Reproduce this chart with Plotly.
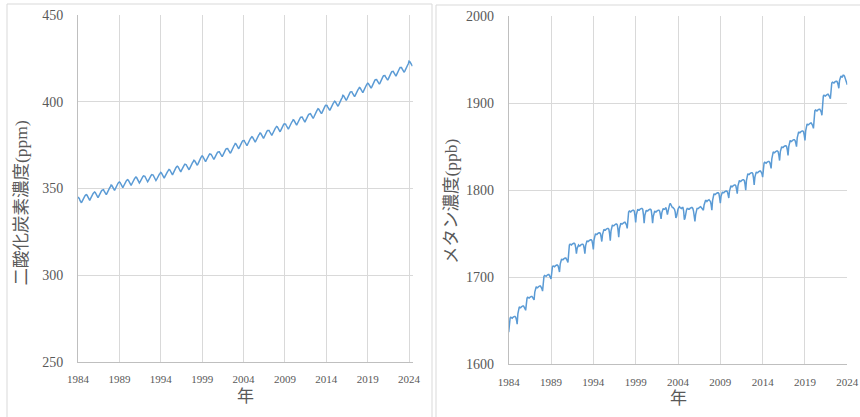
import plotly.graph_objects as go

# ---------------- data ----------------
# CO2 (ppm), monthly, one row per axis year starting 1984 (last row partial)
co2_years = list(range(1984, 2025))
co2_rows = [
    [345.1, 344.8, 344.1, 343.0, 342.1, 341.8, 342.6, 343.6, 344.4, 345.0, 345.7, 346.2],
    [346.5, 346.2, 345.5, 344.4, 343.5, 343.2, 344.0, 345.0, 345.8, 346.4, 347.1, 347.6],
    [348.0, 347.7, 347.0, 345.9, 345.0, 344.7, 345.5, 346.5, 347.3, 347.9, 348.6, 349.1],
    [349.5, 349.3, 348.5, 347.5, 346.6, 346.4, 347.2, 348.2, 349.1, 349.8, 350.5, 351.0],
    [352.0, 351.8, 351.0, 350.0, 349.1, 348.9, 349.7, 350.7, 351.6, 352.3, 353.0, 353.5],
    [353.8, 353.5, 352.8, 351.7, 350.8, 350.5, 351.3, 352.3, 353.1, 353.7, 354.4, 354.9],
    [355.1, 354.8, 354.1, 353.0, 352.1, 351.8, 352.6, 353.6, 354.4, 355.0, 355.7, 356.2],
    [356.6, 356.3, 355.5, 354.4, 353.5, 353.2, 353.8, 354.8, 355.6, 356.2, 356.8, 357.3],
    [357.3, 357.0, 356.2, 355.1, 354.2, 353.9, 354.5, 355.5, 356.3, 356.9, 357.5, 358.0],
    [358.0, 357.7, 356.9, 355.8, 354.9, 354.6, 355.2, 356.2, 357.0, 357.6, 358.2, 358.7],
    [359.3, 359.0, 358.3, 357.2, 356.3, 356.0, 356.8, 357.8, 358.6, 359.2, 359.9, 360.4],
    [361.0, 360.8, 360.0, 359.0, 358.1, 357.9, 358.7, 359.7, 360.6, 361.3, 362.0, 362.5],
    [362.9, 362.6, 361.9, 360.8, 359.9, 359.6, 360.4, 361.4, 362.2, 362.8, 363.5, 364.0],
    [363.9, 363.7, 362.9, 361.9, 361.0, 360.8, 361.6, 362.6, 363.5, 364.2, 364.9, 365.4],
    [366.3, 366.1, 365.4, 364.4, 363.6, 363.4, 364.2, 365.3, 366.2, 366.9, 367.6, 368.3],
    [368.8, 368.5, 367.8, 366.7, 365.8, 365.5, 366.3, 367.3, 368.1, 368.7, 369.4, 369.9],
    [370.0, 369.7, 369.0, 367.9, 367.0, 366.7, 367.5, 368.5, 369.3, 369.9, 370.6, 371.1],
    [371.4, 371.2, 370.4, 369.4, 368.5, 368.3, 369.1, 370.1, 371.0, 371.7, 372.4, 372.9],
    [373.2, 373.0, 372.3, 371.3, 370.5, 370.3, 371.1, 372.2, 373.1, 373.8, 374.5, 375.2],
    [376.0, 375.8, 375.0, 374.0, 373.1, 372.9, 373.7, 374.7, 375.6, 376.3, 377.0, 377.5],
    [377.8, 377.6, 376.8, 375.8, 374.9, 374.7, 375.5, 376.5, 377.4, 378.1, 378.8, 379.3],
    [379.8, 379.6, 378.8, 377.8, 376.9, 376.7, 377.5, 378.5, 379.4, 380.1, 380.8, 381.3],
    [382.0, 381.8, 381.0, 380.0, 379.1, 378.9, 379.7, 380.7, 381.6, 382.3, 383.0, 383.5],
    [383.7, 383.5, 382.7, 381.7, 380.8, 380.6, 381.4, 382.4, 383.3, 384.0, 384.7, 385.2],
    [385.8, 385.6, 384.8, 383.8, 382.9, 382.7, 383.5, 384.5, 385.4, 386.1, 386.8, 387.3],
    [387.3, 387.1, 386.3, 385.3, 384.4, 384.2, 385.0, 386.0, 386.9, 387.6, 388.3, 388.8],
    [389.6, 389.4, 388.6, 387.6, 386.7, 386.5, 387.3, 388.3, 389.2, 389.9, 390.6, 391.1],
    [391.4, 391.2, 390.4, 389.4, 388.5, 388.3, 389.1, 390.1, 391.0, 391.7, 392.4, 392.9],
    [393.3, 393.1, 392.4, 391.4, 390.6, 390.4, 391.2, 392.3, 393.2, 393.9, 394.6, 395.3],
    [396.0, 395.8, 395.1, 394.1, 393.3, 393.1, 393.9, 395.0, 395.9, 396.6, 397.3, 398.0],
    [398.1, 397.9, 397.1, 396.1, 395.2, 395.0, 395.8, 396.8, 397.7, 398.4, 399.1, 399.6],
    [400.3, 400.1, 399.4, 398.4, 397.6, 397.4, 398.2, 399.3, 400.2, 400.9, 401.6, 402.3],
    [403.7, 403.5, 402.8, 401.8, 401.0, 400.8, 401.6, 402.7, 403.6, 404.3, 405.0, 405.7],
    [406.0, 405.8, 405.0, 404.0, 403.1, 402.9, 403.7, 404.7, 405.6, 406.3, 407.0, 407.5],
    [408.2, 408.0, 407.3, 406.3, 405.5, 405.3, 406.1, 407.2, 408.1, 408.8, 409.5, 410.2],
    [410.7, 410.5, 409.8, 408.8, 408.0, 407.8, 408.6, 409.7, 410.6, 411.3, 412.0, 412.7],
    [413.0, 412.8, 412.1, 411.1, 410.3, 410.1, 410.9, 412.0, 412.9, 413.6, 414.3, 415.0],
    [415.3, 415.1, 414.4, 413.4, 412.6, 412.4, 413.2, 414.3, 415.2, 415.9, 416.6, 417.3],
    [417.7, 417.5, 416.8, 415.8, 415.0, 414.8, 415.6, 416.7, 417.6, 418.3, 419.0, 419.7],
    [419.9, 419.7, 419.0, 418.0, 417.2, 417.0, 417.8, 418.9, 419.8, 420.5, 421.2, 421.9],
    [423.4, 423.2, 422.5, 421.5, 420.7, 420.5],
]

# CH4 (ppb), monthly, one row per axis year starting 1984 (last row partial)
ch4_years = list(range(1984, 2025))
ch4_rows = [
    [1637, 1647, 1653, 1654, 1653, 1653, 1654, 1655, 1655, 1655, 1654, 1651],
    [1646, 1658, 1665, 1666, 1665, 1665, 1666, 1667, 1667, 1667, 1666, 1664],
    [1662, 1671, 1676, 1677, 1676, 1676, 1677, 1678, 1678, 1678, 1677, 1676],
    [1674, 1683, 1688, 1689, 1688, 1688, 1689, 1690, 1690, 1690, 1689, 1687],
    [1684, 1695, 1701, 1702, 1701, 1701, 1702, 1703, 1703, 1703, 1702, 1700],
    [1698, 1707, 1712, 1713, 1712, 1712, 1713, 1714, 1714, 1714, 1713, 1710],
    [1706, 1715, 1720, 1721, 1720, 1720, 1721, 1722, 1722, 1722, 1721, 1719],
    [1717, 1730, 1737, 1738, 1737, 1737, 1738, 1739, 1739, 1739, 1738, 1734],
    [1727, 1733, 1736, 1737, 1736, 1736, 1737, 1738, 1738, 1738, 1737, 1733],
    [1727, 1736, 1741, 1742, 1741, 1741, 1742, 1743, 1743, 1743, 1742, 1738],
    [1732, 1743, 1749, 1750, 1749, 1749, 1750, 1751, 1751, 1751, 1750, 1746],
    [1741, 1749, 1754, 1755, 1754, 1754, 1755, 1756, 1756, 1756, 1755, 1750],
    [1742, 1753, 1759, 1760, 1759, 1759, 1760, 1761, 1761, 1761, 1760, 1754],
    [1746, 1756, 1761, 1762, 1761, 1761, 1762, 1763, 1763, 1763, 1762, 1760],
    [1756, 1768, 1775, 1776, 1775, 1775, 1776, 1777, 1777, 1777, 1776, 1771],
    [1763, 1772, 1777, 1778, 1777, 1777, 1778, 1779, 1779, 1779, 1778, 1772],
    [1762, 1771, 1776, 1777, 1776, 1776, 1777, 1778, 1778, 1778, 1777, 1771],
    [1762, 1770, 1775, 1776, 1775, 1775, 1776, 1777, 1777, 1777, 1776, 1772],
    [1767, 1774, 1778, 1779, 1778, 1778, 1779, 1780, 1776, 1772, 1776, 1781],
    [1783, 1785, 1783, 1781, 1780, 1780, 1779, 1778, 1775, 1768, 1770, 1776],
    [1778, 1780, 1781, 1780, 1779, 1779, 1780, 1780, 1776, 1766, 1768, 1775],
    [1777, 1779, 1779, 1778, 1778, 1779, 1780, 1780, 1780, 1779, 1776, 1770],
    [1764, 1772, 1778, 1779, 1779, 1779, 1780, 1781, 1781, 1780, 1779, 1778],
    [1777, 1783, 1787, 1788, 1788, 1787, 1788, 1789, 1789, 1788, 1787, 1783],
    [1777, 1788, 1795, 1796, 1795, 1795, 1796, 1797, 1797, 1797, 1796, 1791],
    [1785, 1793, 1797, 1798, 1797, 1797, 1798, 1799, 1799, 1799, 1798, 1795],
    [1791, 1799, 1804, 1805, 1804, 1804, 1805, 1806, 1806, 1806, 1805, 1801],
    [1796, 1805, 1810, 1811, 1810, 1810, 1811, 1812, 1812, 1812, 1811, 1807],
    [1800, 1811, 1818, 1819, 1818, 1818, 1819, 1820, 1820, 1820, 1819, 1814],
    [1806, 1815, 1820, 1821, 1820, 1820, 1821, 1822, 1822, 1822, 1821, 1819],
    [1815, 1825, 1831, 1832, 1831, 1831, 1832, 1833, 1833, 1833, 1832, 1829],
    [1825, 1836, 1843, 1844, 1843, 1843, 1844, 1845, 1845, 1845, 1844, 1840],
    [1834, 1844, 1849, 1850, 1849, 1849, 1850, 1851, 1851, 1851, 1850, 1846],
    [1840, 1850, 1856, 1857, 1856, 1856, 1857, 1858, 1858, 1858, 1857, 1854],
    [1850, 1860, 1866, 1867, 1866, 1866, 1867, 1868, 1868, 1868, 1867, 1863],
    [1857, 1868, 1875, 1876, 1875, 1875, 1876, 1877, 1877, 1877, 1876, 1874],
    [1871, 1884, 1891, 1892, 1891, 1891, 1892, 1893, 1893, 1893, 1892, 1890],
    [1886, 1900, 1908, 1909, 1908, 1908, 1909, 1910, 1910, 1910, 1909, 1907],
    [1905, 1916, 1923, 1924, 1923, 1923, 1924, 1925, 1925, 1925, 1924, 1921],
    [1917, 1926, 1930, 1931, 1930, 1930, 1932, 1932, 1931, 1929, 1926, 1924],
    [1921],
]

x_tick_labels = ["1984", "1989", "1994", "1999", "2004", "2009", "2014", "2019", "2024"]
co2_y_ticks = [250, 300, 350, 400, 450]
ch4_y_ticks = [1600, 1700, 1800, 1900, 2000]
x_title = "年"
co2_title = "二酸化炭素濃度(ppm)"
ch4_title = "メタン濃度(ppb)"


def flatten(years, rows):
    xs, ys = [], []
    for yr, row in zip(years, rows):
        for k, v in enumerate(row):
            xs.append(yr + k / 12.0)
            ys.append(v)
    return xs, ys


co2_x, co2_y = flatten(co2_years, co2_rows)
ch4_x, ch4_y = flatten(ch4_years, ch4_rows)

# ---------------- figure ----------------
W, H = 860, 417
LINE = "#5b9bd5"
GRID = "#d9d9d9"
AXIS = "#bfbfbf"
TXT = "#595959"
NUMFONT = "Liberation Serif, DejaVu Serif, serif"
JPFONT = "Liberation Serif, Noto Sans CJK JP, sans-serif"


def fx(px):
    return px / W


def fy(py):
    return 1 - py / H


fig = go.Figure()
fig.add_trace(go.Scatter(x=co2_x, y=co2_y, mode="lines",
                         line=dict(color=LINE, width=1.5), xaxis="x", yaxis="y",
                         showlegend=False, hoverinfo="skip", cliponaxis=False))
fig.add_trace(go.Scatter(x=ch4_x, y=ch4_y, mode="lines",
                         line=dict(color=LINE, width=1.5), xaxis="x2", yaxis="y2",
                         showlegend=False, hoverinfo="skip", cliponaxis=False))

tickvals_x = [int(t) for t in x_tick_labels]

common_x = dict(showgrid=True, gridcolor=GRID, gridwidth=1, zeroline=False,
                showline=True, linecolor=AXIS, linewidth=1, ticks="", automargin=False,
                tickfont=dict(family=NUMFONT, size=11, color=TXT),
                tickvals=tickvals_x, ticktext=x_tick_labels, ticklabelstandoff=7)
common_y = dict(showgrid=True, gridcolor=GRID, gridwidth=1, zeroline=False,
                showline=True, linecolor=AXIS, linewidth=1, ticks="", automargin=False,
                tickfont=dict(family=NUMFONT, size=14, color=TXT), ticklabelstandoff=11)

fig.update_layout(
    width=W, height=H,
    autosize=False,
    margin=dict(l=0, r=0, t=0, b=0, pad=0, autoexpand=False),
    paper_bgcolor="white", plot_bgcolor="white",
    xaxis=dict(domain=[fx(78), fx(412.5)], range=[1984, 2024 + 5 / 12],
               anchor="y", **common_x),
    yaxis=dict(domain=[fy(362), fy(15)], range=[250, 450], tickvals=co2_y_ticks,
               anchor="x", **common_y),
    xaxis2=dict(domain=[fx(508.7), fx(847.3)], range=[1984, 2024],
                anchor="y2", **common_x),
    yaxis2=dict(domain=[fy(364.3), fy(16)], range=[1600, 2000], tickvals=ch4_y_ticks,
                anchor="x2", **common_y),
    shapes=[
        dict(type="rect", xref="paper", yref="paper",
             x0=fx(7), x1=fx(432), y0=fy(430), y1=fy(4),
             line=dict(color=GRID, width=1), fillcolor="rgba(0,0,0,0)", layer="below"),
        dict(type="rect", xref="paper", yref="paper",
             x0=fx(436), x1=fx(875), y0=fy(430), y1=fy(5),
             line=dict(color=GRID, width=1), fillcolor="rgba(0,0,0,0)", layer="below"),
    ],
    annotations=[
        dict(text=x_title, xref="paper", yref="paper", x=fx(245), y=fy(396),
             xanchor="center", yanchor="middle", showarrow=False,
             font=dict(family=JPFONT, size=17, color=TXT)),
        dict(text=x_title, xref="paper", yref="paper", x=fx(678), y=fy(398),
             xanchor="center", yanchor="middle", showarrow=False,
             font=dict(family=JPFONT, size=17, color=TXT)),
        dict(text=co2_title, xref="paper", yref="paper", x=fx(20.5), y=fy(203),
             xanchor="center", yanchor="middle", showarrow=False, textangle=-90,
             font=dict(family=JPFONT, size=17.5, color=TXT)),
        dict(text=ch4_title, xref="paper", yref="paper", x=fx(451), y=fy(201),
             xanchor="center", yanchor="middle", showarrow=False, textangle=-90,
             font=dict(family=JPFONT, size=17.5, color=TXT)),
    ],
)

fig.write_html(
    "out.html",
    config={"responsive": False, "displayModeBar": False},
    post_script="document.body.style.margin='0';document.body.style.overflow='hidden';",
)
